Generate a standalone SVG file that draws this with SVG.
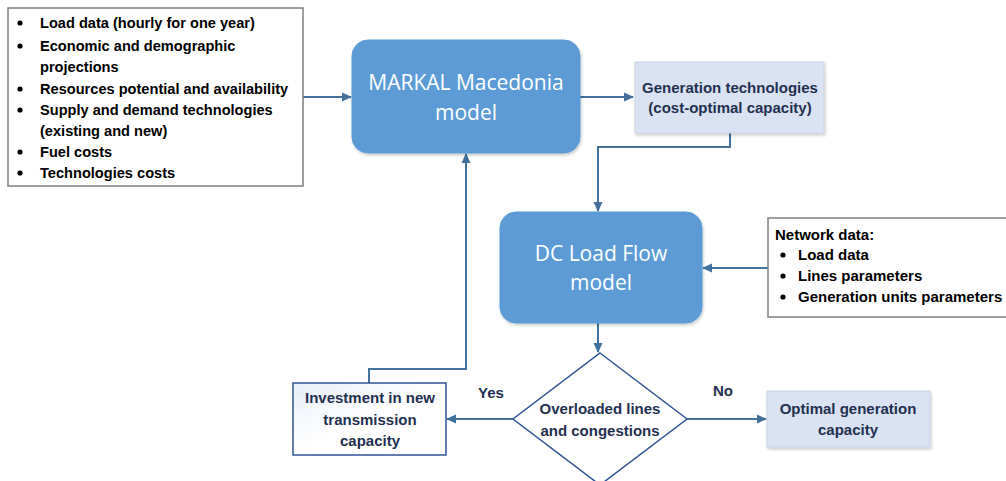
<svg xmlns="http://www.w3.org/2000/svg" width="1006" height="481" viewBox="0 0 1006 481">
<style>
.t{font-family:"Liberation Sans",Arial,sans-serif;font-weight:bold;font-size:14.6px;fill:#000}
.n{font-size:15px}
.nv{font-family:"Liberation Sans",Arial,sans-serif;font-weight:bold;font-size:15px;fill:#1f3050}
.w{font-family:"Open Sans","Liberation Sans",sans-serif;font-size:21px;fill:#fff}
.c{fill:none;stroke:#41719c;stroke-width:2}
.lb{fill:#dae3f3;stroke:#c9d3e6;stroke-width:1}
.bl{fill:#5b9bd5;stroke:#5b9bd5}
</style>
<defs>
<marker id="a" markerWidth="10" markerHeight="10" refX="9" refY="5" orient="auto" markerUnits="userSpaceOnUse">
<path d="M0,0.5 L10,5 L0,9.5 z" fill="#41719c"/>
</marker>
<linearGradient id="g" x1="0" y1="0" x2="1" y2="1">
<stop offset="0" stop-color="#e8eef8"/><stop offset="0.5" stop-color="#fff"/><stop offset="1" stop-color="#fff"/>
</linearGradient>
<filter id="s" x="-10%" y="-10%" width="130%" height="130%">
<feDropShadow dx="1" dy="2" stdDeviation="1.5" flood-color="#000" flood-opacity="0.2"/>
</filter>
</defs>
<rect width="1006" height="481" fill="#fff"/>

<g id="connectors">
<line class="c" x1="303" y1="97" x2="351" y2="97" marker-end="url(#a)"/>
<line class="c" x1="580" y1="97" x2="633" y2="97" marker-end="url(#a)"/>
<polyline class="c" points="730,133 730,147 598,147 598,211" marker-end="url(#a)"/>
<line class="c" x1="768" y1="268" x2="703" y2="268" marker-end="url(#a)"/>
<line class="c" x1="598" y1="323" x2="598" y2="352" marker-end="url(#a)"/>
<line class="c" x1="513" y1="419" x2="447" y2="419" marker-end="url(#a)"/>
<line class="c" x1="687" y1="419" x2="766" y2="419" marker-end="url(#a)"/>
<polyline class="c" points="369,383 369,369 466,369 466,154" marker-end="url(#a)"/>
</g>

<g id="inputs">
<rect x="8" y="8" width="295" height="178" fill="#fff" stroke="#7f7f7f" stroke-width="1.5"/>
<g fill="#000">
<circle cx="20" cy="23" r="2.6"/><circle cx="20" cy="46" r="2.6"/><circle cx="20" cy="89" r="2.6"/>
<circle cx="20" cy="110" r="2.6"/><circle cx="20" cy="152" r="2.6"/><circle cx="20" cy="173" r="2.6"/>
</g>
<text class="t" x="40" y="28">Load data (hourly for one year)</text>
<text class="t" x="40" y="51">Economic and demographic</text>
<text class="t" x="40" y="72">projections</text>
<text class="t" x="40" y="94">Resources potential and availability</text>
<text class="t" x="40" y="115">Supply and demand technologies</text>
<text class="t" x="40" y="136">(existing and new)</text>
<text class="t" x="40" y="157">Fuel costs</text>
<text class="t" x="40" y="178">Technologies costs</text>
</g>

<g id="markal">
<rect class="bl" x="352" y="40" width="228" height="113" rx="16" filter="url(#s)"/>
<text class="w" x="466" y="90" text-anchor="middle">MARKAL Macedonia</text>
<text class="w" x="466" y="120" text-anchor="middle">model</text>
</g>

<g id="gentech">
<rect class="lb" x="635" y="62" width="189" height="71" filter="url(#s)"/>
<text class="nv" x="730" y="93" text-anchor="middle">Generation technologies</text>
<text class="nv" x="730" y="113" text-anchor="middle">(cost-optimal capacity)</text>
</g>

<g id="dcflow">
<rect class="bl" x="500" y="212" width="202" height="111" rx="16" filter="url(#s)"/>
<text class="w" x="601" y="261" text-anchor="middle">DC Load Flow</text>
<text class="w" x="601" y="290" text-anchor="middle">model</text>
</g>

<g id="network">
<rect x="768" y="218" width="245" height="99" fill="#fff" stroke="#7f7f7f" stroke-width="1.5"/>
<text class="t n" x="775" y="240">Network data:</text>
<g fill="#000"><circle cx="783" cy="255" r="2.6"/><circle cx="783" cy="276" r="2.6"/><circle cx="783" cy="297" r="2.6"/></g>
<text class="t n" x="798" y="260">Load data</text>
<text class="t n" x="798" y="281">Lines parameters</text>
<text class="t n" x="798" y="302">Generation units parameters</text>
</g>

<g id="decision">
<polygon points="600,353 687,419 600,485 513,419" fill="#fff" stroke="#2f5597" stroke-width="1.5"/>
<text class="nv" x="600" y="414" text-anchor="middle">Overloaded lines</text>
<text class="nv" x="600" y="436" text-anchor="middle">and congestions</text>
</g>

<g id="invest">
<rect x="293" y="383" width="153" height="72" fill="url(#g)" stroke="#2f5597" stroke-width="1.5"/>
<text class="nv" x="370" y="403" text-anchor="middle">Investment in new</text>
<text class="nv" x="370" y="425" text-anchor="middle">transmission</text>
<text class="nv" x="370" y="446" text-anchor="middle">capacity</text>
</g>

<g id="optimal">
<rect class="lb" x="767" y="391" width="163" height="56" filter="url(#s)"/>
<text class="nv" x="848" y="414" text-anchor="middle">Optimal generation</text>
<text class="nv" x="848" y="435" text-anchor="middle">capacity</text>
</g>

<g id="labels">
<text class="nv" x="491" y="398" text-anchor="middle">Yes</text>
<text class="nv" x="723" y="396" text-anchor="middle">No</text>
</g>
</svg>
